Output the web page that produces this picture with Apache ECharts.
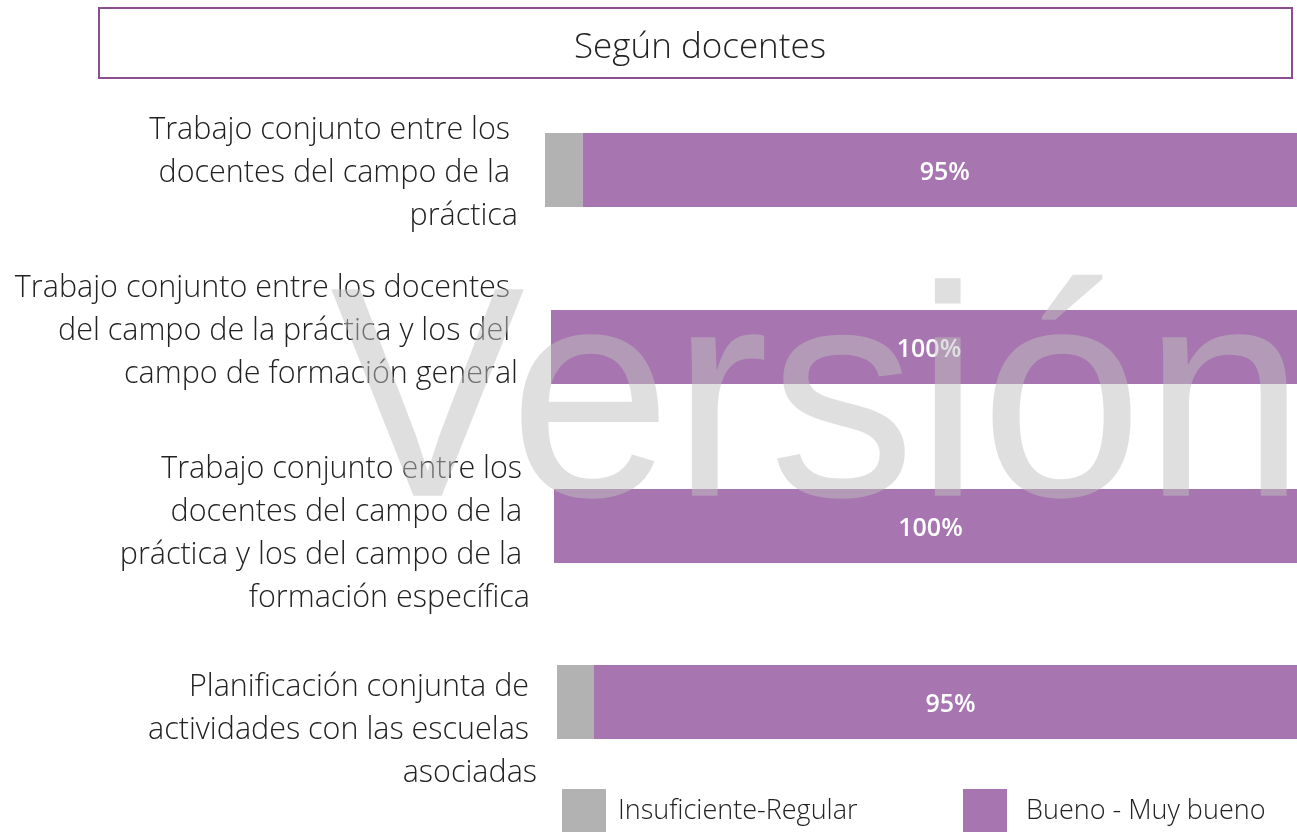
<!DOCTYPE html>
<html>
<head>
<meta charset="utf-8">
<script src="https://cdn.jsdelivr.net/npm/echarts@6/dist/echarts.min.js"></script>
<style>
  html, body { margin: 0; padding: 0; background: #ffffff; }
  #chart { width: 1297px; height: 832px; }
</style>
</head>
<body>
<div id="chart"></div>
<script>
// ---- data ----
const titleText = 'Según docentes';
const watermarkText = 'Versión';
const categories = [
  'Trabajo conjunto entre los \ndocentes del campo de la \npráctica',
  'Trabajo conjunto entre los docentes \ndel campo de la práctica y los del \ncampo de formación general',
  'Trabajo conjunto entre los \ndocentes del campo de la \npráctica y los del campo de la \nformación específica',
  'Planificación conjunta de \nactividades con las escuelas \nasociadas'
];
const seriesNames = ['Insuficiente-Regular', 'Bueno - Muy bueno'];
const insuficienteRegular = [5, 0, 0, 5];
const buenoMuyBueno = [95, 100, 100, 95];

// ---- layout ----
const colors = ['#b2b2b2', '#a776b0'];
const barTops = [133, 310, 489, 665];
const barLefts = [545, 551, 554, 557];
const barHeight = 74;
const labelMargins = [27, 33, 24, 20];
const labelShift = [3, -16, 8, 28]; // vertical nudge of each category text block
const labelFont = '"Open Sans", "Noto Sans", sans-serif';

// a blank spacer line above (or below) the text moves the centred block down (or up)
function shiftedLabel(text, shift) {
  if (!shift) return text;
  return shift > 0 ? '{g| }\n' + text : text + '\n{g| }';
}

const grids = [], xAxes = [], yAxes = [], series = [];
categories.forEach((cat, i) => {
  grids.push({ left: barLefts[i], right: 0, top: barTops[i], height: barHeight, containLabel: false });
  xAxes.push({ gridIndex: i, type: 'value', min: 0, max: 100, show: false });
  const s = labelShift[i];
  yAxes.push({
    gridIndex: i, type: 'category', data: [cat],
    axisLine: { show: false }, axisTick: { show: false }, splitLine: { show: false },
    axisLabel: {
      margin: labelMargins[i], align: 'right', verticalAlign: 'middle',
      fontFamily: labelFont, fontWeight: 300, fontSize: 30.5, lineHeight: 43, color: '#222222',
      formatter: (v) => shiftedLabel(v, s),
      rich: { g: { fontSize: 1, lineHeight: Math.abs(2 * s), height: Math.abs(2 * s) } }
    }
  });
  series.push({
    name: seriesNames[0], type: 'bar', stack: 's' + i, xAxisIndex: i, yAxisIndex: i,
    barWidth: '100%', data: [insuficienteRegular[i]],
    itemStyle: { color: colors[0] }, silent: true
  });
  series.push({
    name: seriesNames[1], type: 'bar', stack: 's' + i, xAxisIndex: i, yAxisIndex: i,
    barWidth: '100%', data: [buenoMuyBueno[i]],
    itemStyle: { color: colors[1] }, silent: true,
    label: {
      show: true, position: 'inside', formatter: '{c}%', offset: [5, 3],
      color: '#ffffff', fontFamily: labelFont, fontWeight: 600, fontSize: 25
    }
  });
});

const legendCommon = {
  top: 789, padding: 0,
  icon: 'rect', itemWidth: 44, itemHeight: 44,
  selectedMode: false,
  textStyle: { fontFamily: labelFont, fontWeight: 300, fontSize: 27, color: '#222222' }
};

const chart = echarts.init(document.getElementById('chart'), null, { renderer: 'canvas' });
chart.setOption({
  animation: false,
  backgroundColor: '#ffffff',
  grid: grids,
  xAxis: xAxes,
  yAxis: yAxes,
  series: series,
  legend: [
    Object.assign({ data: [seriesNames[0]], left: 562, formatter: (n) => ' ' + n }, legendCommon),
    Object.assign({ data: [seriesNames[1]], left: 963, formatter: (n) => '  ' + n }, legendCommon)
  ],
  graphic: [
    {
      type: 'rect', z: 10, silent: true,
      shape: { x: 99, y: 8, width: 1193, height: 70 },
      style: { fill: '#ffffff', stroke: '#8b4e8f', lineWidth: 2 }
    },
    {
      type: 'text', z: 11, silent: true,
      x: 700, y: 48,
      style: {
        text: titleText, font: '300 35px "Open Sans", sans-serif', fill: '#222222',
        align: 'center', verticalAlign: 'middle'
      }
    },
    {
      type: 'text', z: 100, silent: true,
      x: 330, y: 413, scaleX: 0.975,
      style: {
        text: watermarkText,
        font: '300px "Liberation Sans", Arial, sans-serif',
        fill: 'rgba(192,192,192,0.5)',
        align: 'left', verticalAlign: 'middle'
      }
    }
  ]
});
</script>
</body>
</html>
